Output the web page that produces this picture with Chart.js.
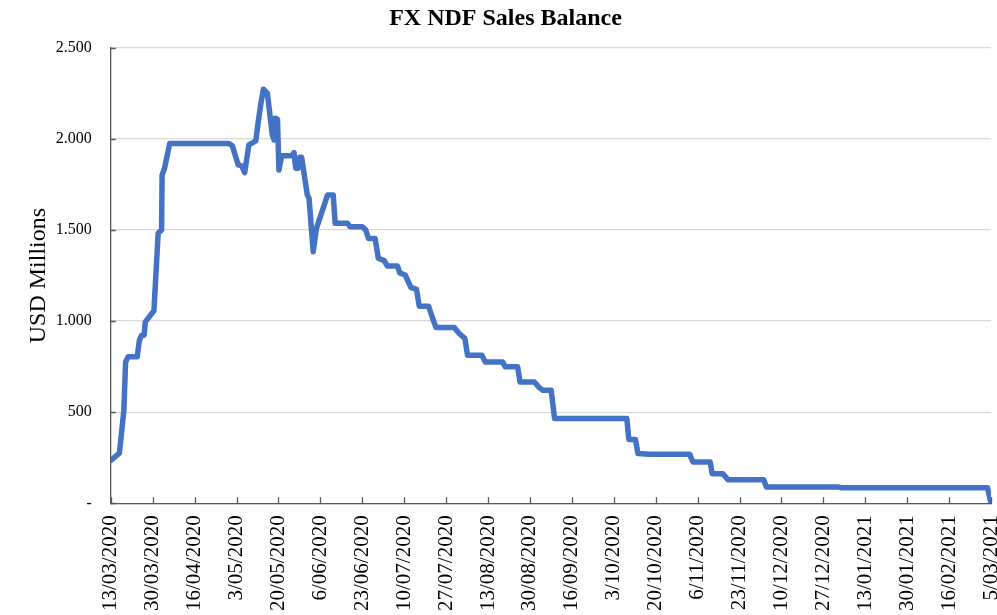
<!DOCTYPE html>
<html>
<head>
<meta charset="utf-8">
<script src="https://cdn.jsdelivr.net/npm/chart.js@4/dist/chart.umd.min.js"></script>
<style>
  html, body { margin: 0; padding: 0; background: #ffffff; }
  #wrap { width: 997px; height: 615px; }
</style>
</head>
<body>
<div id="wrap"><canvas id="c" width="997" height="615"></canvas></div>
<script>
// Day offsets from 13/03/2020 and balance (USD millions)
const days = [0, 3.5, 5.3, 6, 7, 10.7, 11.6, 12.5, 13.5, 14, 17.5, 19.2, 20.6, 20.8, 21.8, 23.9,
  47.9, 49.3, 51.7, 53.1, 54.3, 56, 58.8, 59.8, 60.9, 61.9, 63.5, 65.5, 66.2, 66.6, 67.6, 68.2,
  69.3, 73.3, 74.3, 75, 76, 76.6, 77.4, 79.7, 80.4, 82.1, 83.4, 87.9, 90.2, 91, 96, 97, 102,
  103.4, 104.5, 107.2, 108.5, 110.9, 112.2, 116.3, 117.2, 119.4, 121.7, 124, 125.1, 128.9,
  130.3, 131.9, 139.3, 141.3, 143.6, 144.7, 150.5, 151.9, 158.9, 160, 165, 166, 171.8, 173.8,
  175.2, 178.6, 180, 209.3, 210.1, 212.8, 213.8, 218.5, 234.8, 236.1, 243.1, 243.9, 248.2,
  250.3, 264.8, 265.9, 295, 296.5, 355.6, 357];
const values = [236, 276, 511, 776, 804, 804, 896, 923, 923, 996, 1057, 1482, 1500, 1802, 1839, 1975,
  1975, 1962, 1857, 1852, 1815, 1967, 1989, 2095, 2196, 2273, 2251, 2022, 1995, 2114, 2108, 1830,
  1907, 1907, 1925, 1839, 1839, 1899, 1899, 1692, 1674, 1381, 1509, 1692, 1692, 1537, 1537, 1518, 1518,
  1500, 1454, 1454, 1345, 1332, 1302, 1302, 1265, 1253, 1185, 1174, 1082, 1082,
  1024, 965, 965, 932, 905, 813, 813, 776, 776, 749, 749, 666, 666, 635,
  621, 621, 465, 465, 350, 350, 273, 269, 269, 227, 227, 163, 163,
  130, 130, 90, 90, 85, 85, 0];
const tickLabels = ["13/03/2020", "30/03/2020", "16/04/2020", "3/05/2020", "20/05/2020", "6/06/2020",
  "23/06/2020", "10/07/2020", "27/07/2020", "13/08/2020", "30/08/2020", "16/09/2020", "3/10/2020",
  "20/10/2020", "6/11/2020", "23/11/2020", "10/12/2020", "27/12/2020", "13/01/2021", "30/01/2021",
  "16/02/2021", "5/03/2021"];
const tickStep = 17;
const yTicks = [0, 500, 1000, 1500, 2000, 2500];

const points = days.map((d, i) => ({ x: d, y: values[i] }));
const serif = "'Liberation Serif', 'Times New Roman', serif";

const innerTicks = {
  id: 'innerTicks',
  afterDraw(chart) {
    const { ctx, chartArea, scales } = chart;
    ctx.save();
    ctx.strokeStyle = '#595959';
    ctx.lineWidth = 1.3;
    ctx.beginPath();
    scales.x.ticks.forEach(t => {
      const px = Math.round(scales.x.getPixelForValue(t.value)) + 0.5;
      ctx.moveTo(px, chartArea.bottom);
      ctx.lineTo(px, chartArea.bottom - 6);
    });
    scales.y.ticks.forEach(t => {
      const py = Math.round(scales.y.getPixelForValue(t.value)) + 0.5;
      ctx.moveTo(chartArea.left, py);
      ctx.lineTo(chartArea.left + 5, py);
    });
    ctx.stroke();
    ctx.restore();
  }
};

new Chart(document.getElementById('c'), {
  type: 'line',
  data: {
    datasets: [{
      data: points,
      borderColor: '#4472C4',
      borderWidth: 5.5,
      pointRadius: 0,
      tension: 0,
      borderJoinStyle: 'round',
      borderCapStyle: 'round',
      fill: false
    }]
  },
  options: {
    responsive: false,
    animation: false,
    devicePixelRatio: 1,
    layout: { padding: { left: 20, right: 6, top: 0, bottom: -8 } },
    plugins: {
      legend: { display: false },
      tooltip: { enabled: false },
      title: {
        display: true,
        text: 'FX NDF Sales Balance',
        color: '#000000',
        font: { family: serif, size: 24, weight: 'bold' },
        padding: { top: 4, bottom: 15 }
      }
    },
    scales: {
      x: {
        type: 'linear',
        min: 0,
        max: days[days.length - 1],
        grid: { display: false, drawTicks: false },
        border: { display: true, color: '#595959', width: 1.3 },
        ticks: {
          stepSize: tickStep,
          autoSkip: false,
          maxRotation: 90,
          minRotation: 90,
          padding: 12,
          color: '#000000',
          font: { family: serif, size: 21 },
          callback: (v) => tickLabels[Math.round(v / tickStep)] || ''
        },
        afterFit: (s) => { s.paddingLeft = 0; s.paddingRight = 0; }
      },
      y: {
        min: 0,
        max: 2500,
        afterBuildTicks: (s) => { s.ticks = yTicks.map(v => ({ value: v })); },
        afterFit: (s) => { s.width = s.width - 20; },
        grid: { color: '#d9d9d9', lineWidth: 1.3, drawTicks: false },
        border: { display: true, color: '#595959', width: 1.3 },
        ticks: {
          padding: 19,
          color: '#000000',
          font: { family: serif, size: 16 },
          callback: (v) => v === 0 ? '-' : v.toLocaleString('de-DE')
        },
        title: {
          display: true,
          text: 'USD Millions',
          color: '#000000',
          font: { family: serif, size: 24 }
        }
      }
    }
  },
  plugins: [innerTicks]
});
</script>
</body>
</html>
